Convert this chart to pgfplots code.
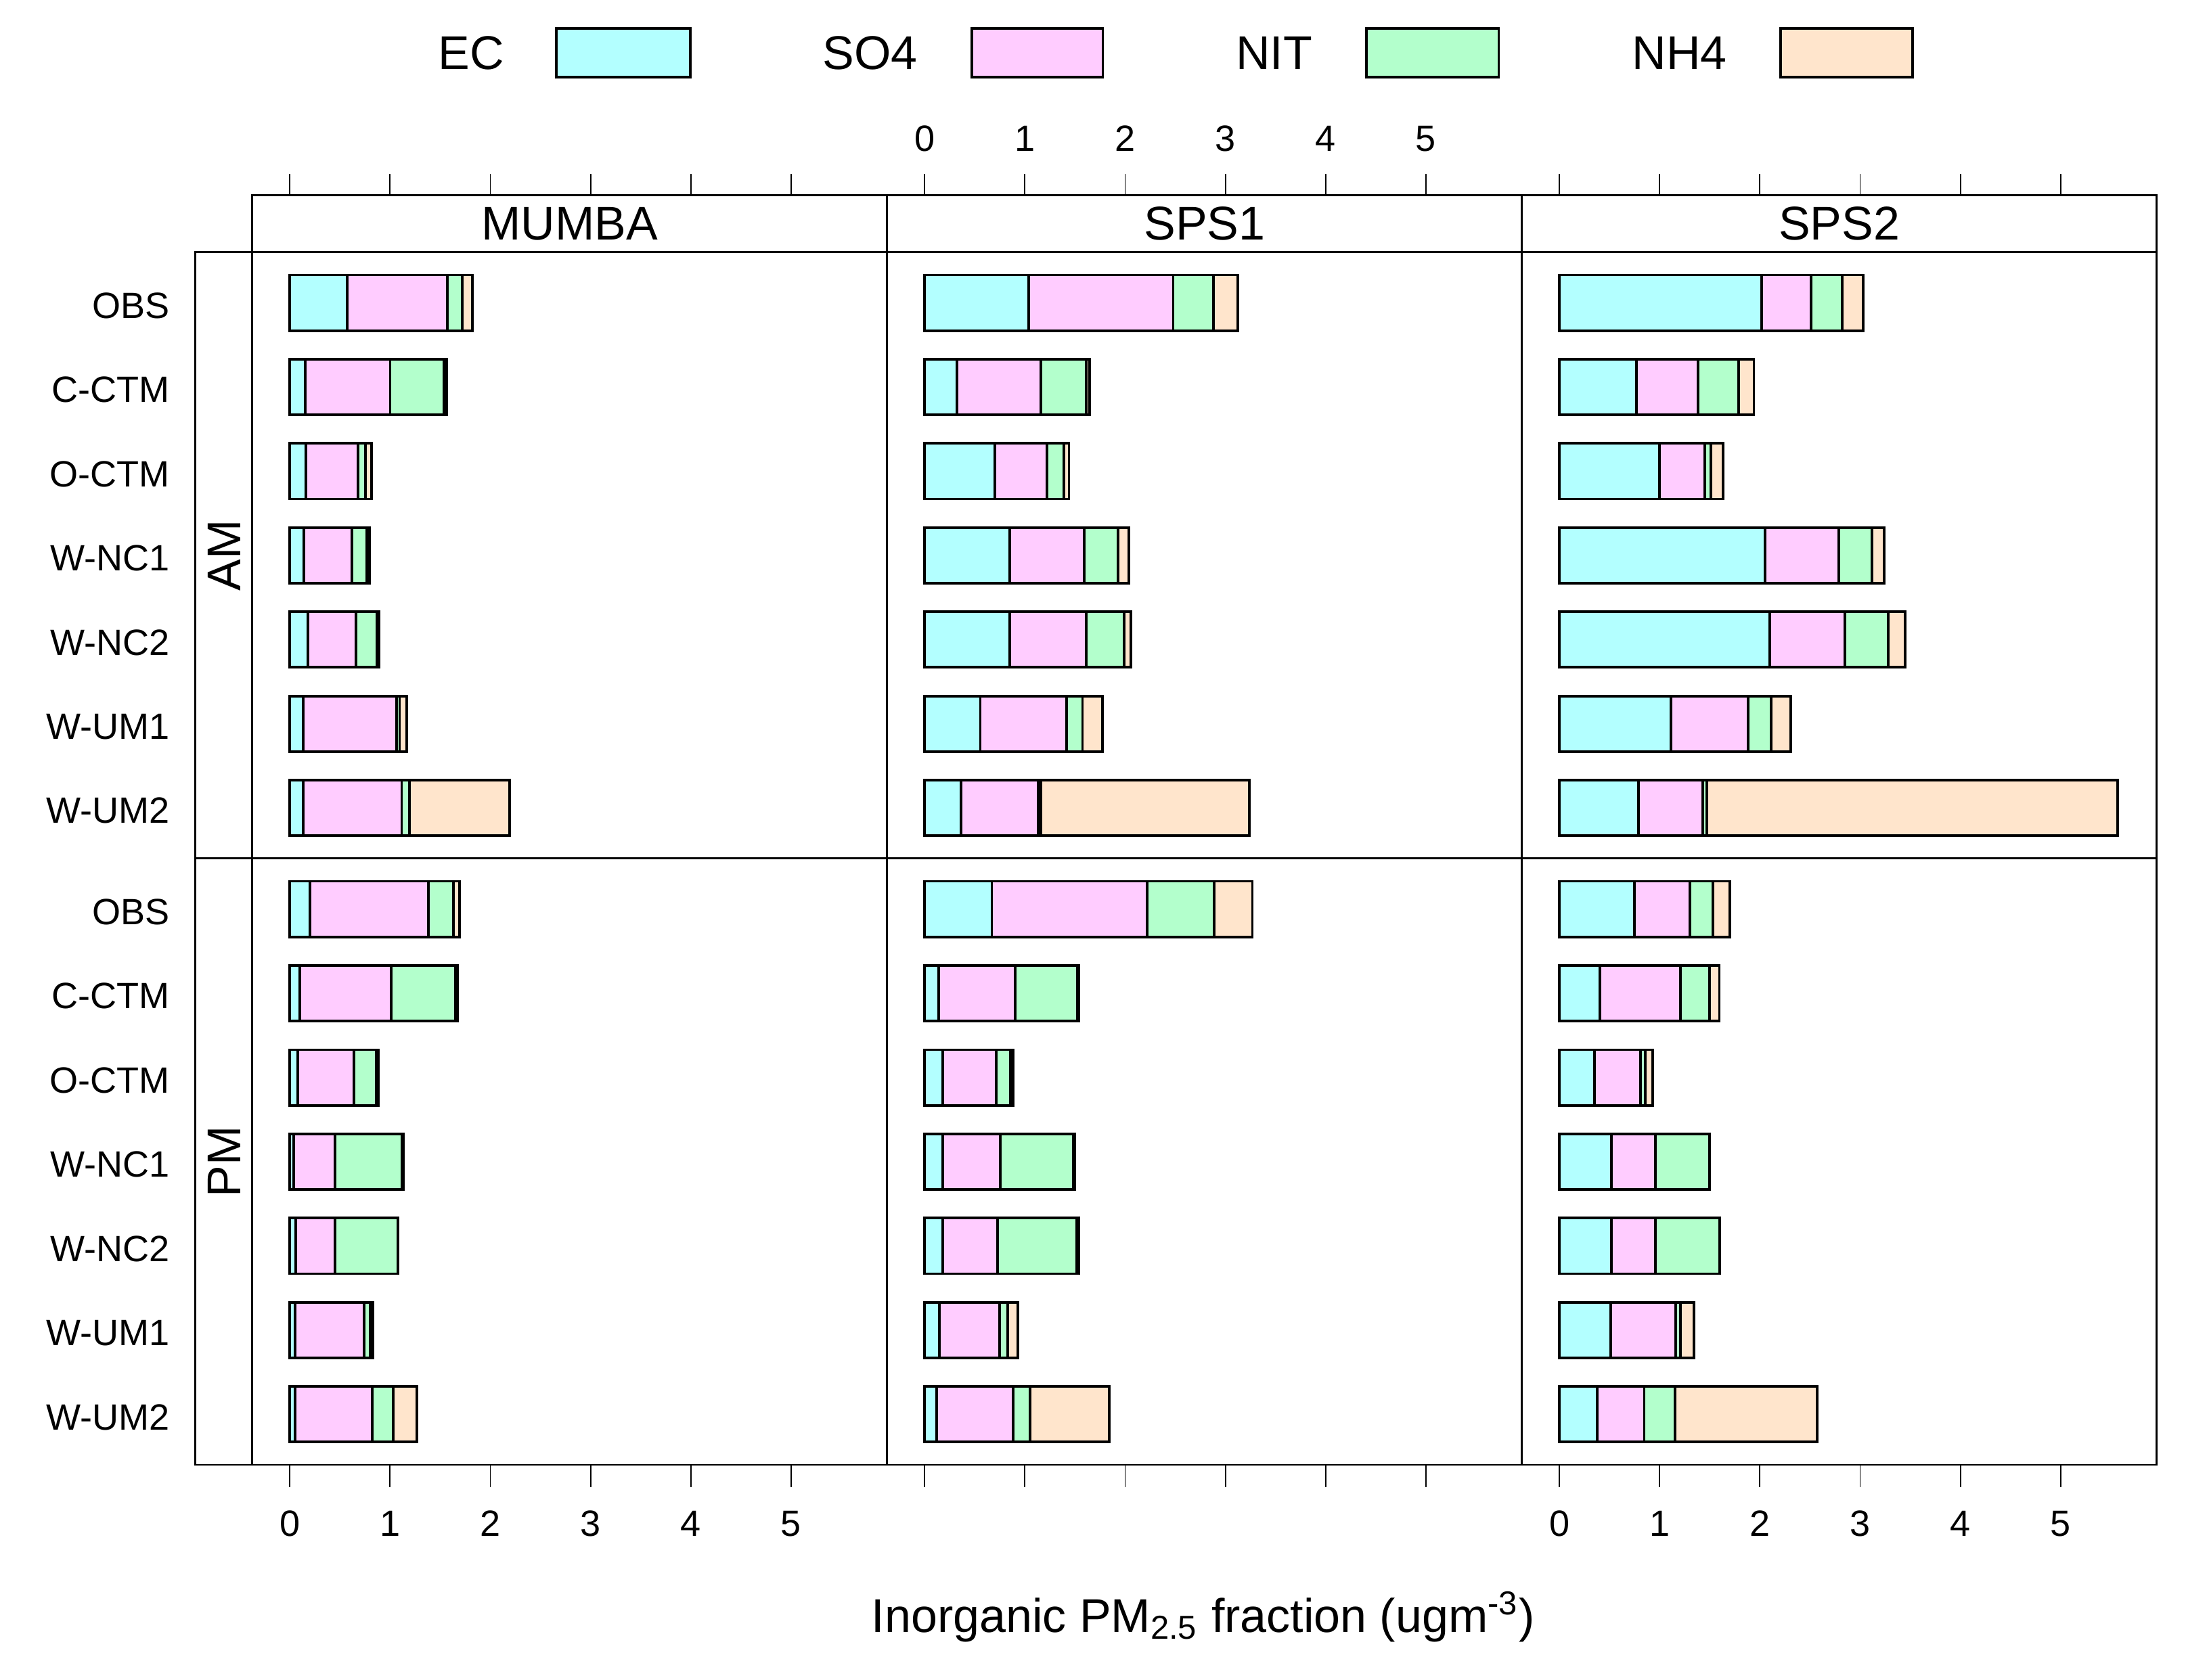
\documentclass[border=0pt]{standalone}
\usepackage{fontspec}
\setmainfont{Liberation Sans}
\usepackage{pgfplots}
\usepackage{pgfplotstable}
\pgfplotsset{compat=1.18}

\definecolor{ecc}{HTML}{B3FFFF}
\definecolor{soc}{HTML}{FFCCFF}
\definecolor{nitc}{HTML}{B3FFCC}
\definecolor{nhc}{HTML}{FFE5CC}

% rows: 1 OBS, 2 C-CTM, 3 O-CTM, 4 W-NC1, 5 W-NC2, 6 W-UM1, 7 W-UM2
\pgfplotstableread{
row EC SO4 NIT NH4
1 0.57 1.00 0.15 0.10
2 0.15 0.85 0.54 0.025
3 0.16 0.52 0.075 0.06
4 0.14 0.48 0.15 0.026
5 0.18 0.48 0.21 0.02
6 0.135 0.93 0.03 0.07
7 0.135 0.98 0.075 1.00
}\mumbaAM
\pgfplotstableread{
row EC SO4 NIT NH4
1 1.04 1.44 0.40 0.245
2 0.32 0.84 0.45 0.035
3 0.70 0.52 0.17 0.05
4 0.85 0.74 0.34 0.11
5 0.85 0.76 0.38 0.07
6 0.555 0.86 0.16 0.20
7 0.36 0.77 0.03 2.08
}\spsoneAM
\pgfplotstableread{
row EC SO4 NIT NH4
1 2.02 0.49 0.31 0.21
2 0.77 0.61 0.41 0.15
3 1.00 0.45 0.06 0.12
4 2.05 0.74 0.33 0.12
5 2.10 0.75 0.43 0.17
6 1.11 0.77 0.23 0.20
7 0.79 0.64 0.04 4.10
}\spstwoAM
\pgfplotstableread{
row EC SO4 NIT NH4
1 0.20 1.18 0.25 0.06
2 0.10 0.91 0.64 0.02
3 0.08 0.56 0.22 0.02
4 0.04 0.41 0.67 0.01
5 0.06 0.39 0.625 0.005
6 0.05 0.69 0.06 0.03
7 0.05 0.77 0.21 0.24
}\mumbaPM
\pgfplotstableread{
row EC SO4 NIT NH4
1 0.67 1.55 0.67 0.38
2 0.14 0.76 0.625 0.015
3 0.18 0.535 0.14 0.03
4 0.18 0.575 0.73 0.01
5 0.18 0.545 0.79 0.02
6 0.145 0.60 0.085 0.10
7 0.12 0.76 0.17 0.79
}\spsonePM
\pgfplotstableread{
row EC SO4 NIT NH4
1 0.75 0.55 0.23 0.17
2 0.405 0.80 0.29 0.10
3 0.35 0.46 0.045 0.075
4 0.52 0.435 0.54 0.005
5 0.52 0.435 0.64 0.005
6 0.51 0.65 0.045 0.135
7 0.375 0.47 0.31 1.415
}\spstwoPM

\newcommand{\ticksize}{\fontsize{11.2}{13}\selectfont}
\newcommand{\bigsize}{\fontsize{14.5}{17}\selectfont}
\newcommand{\bars}[1]{%
  \addplot table[x=EC,y=row]{#1};
  \addplot table[x=SO4,y=row]{#1};
  \addplot table[x=NIT,y=row]{#1};
  \addplot table[x=NH4,y=row]{#1};
}

\pgfplotsset{
  panel/.style={scale only axis, width=68.3mm, height=65.25mm, anchor=north west,
    xmin=-0.375, xmax=5.96, ymin=0.4, ymax=7.6, y dir=reverse,
    xbar stacked, bar width=0.66,
    axis line style={line width=0.6pt}, xtick=\empty, ytick=\empty,
    cycle list={{fill=ecc,draw=black},{fill=soc,draw=black},{fill=nitc,draw=black},{fill=nhc,draw=black}},
    every axis plot/.append style={line width=0.8pt},
    /pgf/number format/assume math mode=true, tick label style={font=\ticksize}},
  bottomticks/.style={xtick={0,...,5}, xtick pos=left, xtick align=outside,
    major tick length=2.4mm, xtick style={black, line width=0.4pt},
    xticklabel style={inner sep=0pt, yshift=-2.5mm}},
  rowlabels/.style={ytick={1,...,7},
    yticklabels={OBS,C-CTM,O-CTM,W-NC1,W-NC2,W-UM1,W-UM2},
    ytick align=inside, ytick style={draw=none},
    yticklabel style={anchor=east, inner sep=0pt, xshift=-8.85mm, yshift=-0.3mm}},
  strip/.style={scale only axis, width=68.3mm, height=6.15mm, anchor=north west,
    xmin=-0.375, xmax=5.96, ymin=0, ymax=1, ytick=\empty,
    xtick={0,...,5}, xtick pos=right, xticklabel pos=right, tick align=outside,
    major tick length=2.3mm, tick style={black, line width=0.4pt},
    axis line style={line width=0.6pt},
    /pgf/number format/assume math mode=true, tick label style={font=\ticksize},
    xticklabel style={inner sep=0pt, yshift=2.35mm}}
}

\begin{document}
\begin{tikzpicture}
\path[use as bounding box] (0,0) rectangle (235.2mm,-180.75mm);

% legend
\node[font=\bigsize] at (50.7mm,-5.7mm) {EC};
\draw[fill=ecc, line width=0.8pt] (59.85mm,-3.08mm) rectangle (74.25mm,-8.33mm);
\node[font=\bigsize] at (93.6mm,-5.7mm) {SO4};
\draw[fill=soc, line width=0.8pt] (104.55mm,-3.08mm) rectangle (118.65mm,-8.33mm);
\node[font=\bigsize] at (137.1mm,-5.7mm) {NIT};
\draw[fill=nitc, line width=0.8pt] (147mm,-3.08mm) rectangle (161.25mm,-8.33mm);
\node[font=\bigsize] at (180.7mm,-5.7mm) {NH4};
\draw[fill=nhc, line width=0.8pt] (191.55mm,-3.08mm) rectangle (205.8mm,-8.33mm);

% strips
\begin{axis}[strip, at={(27.15mm,-21mm)}, xticklabels={}]
\node[font=\bigsize] at (rel axis cs:0.5,0.5) {MUMBA};
\end{axis}
\begin{axis}[strip, at={(95.45mm,-21mm)}]
\node[font=\bigsize] at (rel axis cs:0.5,0.5) {SPS1};
\end{axis}
\begin{axis}[strip, at={(163.75mm,-21mm)}, xticklabels={}]
\node[font=\bigsize] at (rel axis cs:0.5,0.5) {SPS2};
\end{axis}

% AM row
\begin{axis}[panel, rowlabels, at={(27.15mm,-27.15mm)}]
\bars{\mumbaAM}
\end{axis}
\begin{axis}[panel, at={(95.45mm,-27.15mm)}]
\bars{\spsoneAM}
\end{axis}
\begin{axis}[panel, at={(163.75mm,-27.15mm)}]
\bars{\spstwoAM}
\end{axis}

% PM row
\begin{axis}[panel, bottomticks, rowlabels, at={(27.15mm,-92.4mm)}]
\bars{\mumbaPM}
\end{axis}
\begin{axis}[panel, bottomticks, xticklabels={}, at={(95.45mm,-92.4mm)}]
\bars{\spsonePM}
\end{axis}
\begin{axis}[panel, bottomticks, at={(163.75mm,-92.4mm)}]
\bars{\spstwoPM}
\end{axis}

% left strips
\draw[line width=0.6pt] (21mm,-27.15mm) rectangle (27.15mm,-92.4mm);
\draw[line width=0.6pt] (21mm,-92.4mm) rectangle (27.15mm,-157.65mm);
\node[rotate=90, font=\bigsize] at (24.1mm,-59.78mm) {AM};
\node[rotate=90, font=\bigsize] at (24.1mm,-125.03mm) {PM};

% x label
\node[font=\bigsize, anchor=base] at (129.45mm,-175.65mm)
  {Inorganic PM\textsubscript{2.5} fraction (ugm\textsuperscript{-3})};
\end{tikzpicture}
\end{document}
